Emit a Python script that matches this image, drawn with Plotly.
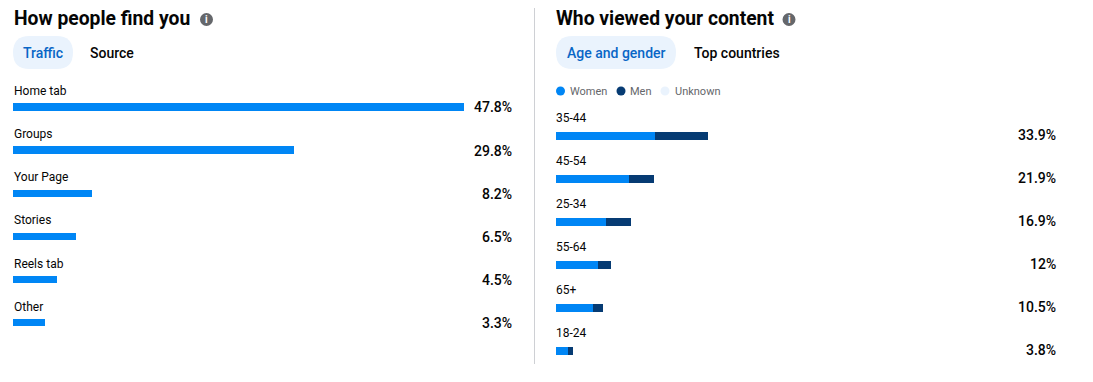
import plotly.graph_objects as go

traffic_labels = ["Home tab", "Groups", "Your Page", "Stories", "Reels tab", "Other"]
traffic_totals = ["47.8%", "29.8%", "8.2%", "6.5%", "4.5%", "3.3%"]
traffic_values = [47.8, 29.8, 8.37, 6.68, 4.66, 3.39]

age_labels = ["35-44", "45-54", "25-34", "55-64", "65+", "18-24"]
age_totals = ["33.9%", "21.9%", "16.9%", "12%", "10.5%", "3.8%"]
women_values = [22.1, 16.3, 11.2, 9.4, 8.3, 2.7]
men_values = [11.8, 5.6, 5.5, 2.8, 2.2, 1.1]

legend_names = ["Women", "Men", "Unknown"]

BLUE = "#0086F5"
NAVY = "#063B73"
PALE = "#EAF3FD"
FONT = "Roboto"
W, H = 1093, 382


def px(x):
    return x / W


def py(y):
    return 1 - y / H


fig = go.Figure()
fig.add_trace(go.Bar(x=traffic_values, y=traffic_labels, orientation="h", marker_color=BLUE,
                     marker_line_width=0, xaxis="x", yaxis="y", showlegend=False, hoverinfo="y"))
fig.add_trace(go.Bar(x=women_values, y=age_labels, orientation="h", marker_color=BLUE, name="Women",
                     marker_line_width=0, xaxis="x2", yaxis="y2", showlegend=False))
fig.add_trace(go.Bar(x=men_values, y=age_labels, orientation="h", marker_color=NAVY, name="Men",
                     marker_line_width=0, xaxis="x2", yaxis="y2", showlegend=False))

ann = []
shapes = []


def text(x, y, s, size=12, color="#050505", weight=400, anchor="left"):
    ann.append(dict(x=px(x), y=py(y), xref="paper", yref="paper", text=s, showarrow=False, borderpad=0,
                    xanchor=anchor, yanchor="middle", align=anchor,
                    font=dict(family=FONT, size=size, color=color, weight=weight)))


def pill(x0, x1, y0, y1):
    a0, a1, b0, b1 = px(x0), px(x1), py(y0), py(y1)
    rx = ((y1 - y0) / 2) / W
    shapes.append(dict(type="path", xref="paper", yref="paper", line_width=0, fillcolor=PALE, layer="below",
                       path=f"M {a0+rx} {b0} L {a1-rx} {b0} Q {a1} {b0} {a1} {(b0+b1)/2} Q {a1} {b1} {a1-rx} {b1} "
                            f"L {a0+rx} {b1} Q {a0} {b1} {a0} {(b0+b1)/2} Q {a0} {b0} {a0+rx} {b0} Z"))


def dot(cx, cy, r, color):
    shapes.append(dict(type="circle", xref="paper", yref="paper", line_width=0, fillcolor=color,
                       x0=px(cx - r), x1=px(cx + r), y0=py(cy + r), y1=py(cy - r)))


# headers
text(13, 19, "How people find you", 19.3, "#050505", 700)
dot(206.5, 19.5, 6.5, "#65676B")
text(206.5, 19.5, "i", 10, "#FFFFFF", 700, "center")
text(555, 19, "Who viewed your content", 19.3, "#050505", 700)
dot(789, 19.5, 6.5, "#65676B")
text(789, 19.5, "i", 10, "#FFFFFF", 700, "center")

# tabs
pill(13, 73, 36, 69)
text(43, 53, "Traffic", 14, "#0866C6", 500, "center")
text(112, 53, "Source", 14, "#050505", 500, "center")
pill(556, 676, 36, 69)
text(616, 53, "Age and gender", 14, "#0866C6", 500, "center")
text(736.5, 53, "Top countries", 14, "#050505", 500, "center")

# legend
for name, cx, tx, c in zip(legend_names, [560.5, 621, 665], [569, 629, 674], [BLUE, NAVY, PALE]):
    dot(cx, 91, 4.5, c)
    text(tx, 91, name, 11, "#65676B")

# row labels
for lab, t in zip(traffic_labels, traffic_totals):
    ann.append(dict(x=px(13), xref="paper", y=lab, yref="y", yshift=16, text=lab, showarrow=False, xanchor="left",
                    yanchor="middle", borderpad=0, font=dict(family=FONT, size=12, color="#050505")))
    ann.append(dict(x=px(512.5), xref="paper", y=lab, yref="y", yshift=-0.5, text=t, showarrow=False,
                    xanchor="right", yanchor="middle", borderpad=0,
                    font=dict(family=FONT, size=14, color="#050505", weight=500)))
for lab, t in zip(age_labels, age_totals):
    ann.append(dict(x=px(555), xref="paper", y=lab, yref="y2", yshift=18, text=lab, showarrow=False, xanchor="left",
                    yanchor="middle", borderpad=0, font=dict(family=FONT, size=12, color="#050505")))
    ann.append(dict(x=px(1056.5), xref="paper", y=lab, yref="y2", yshift=1.5, text=t, showarrow=False,
                    xanchor="right", yanchor="middle", borderpad=0,
                    font=dict(family=FONT, size=14, color="#050505", weight=500)))

# separator
shapes.append(dict(type="line", xref="paper", yref="paper", x0=px(534.5), x1=px(534.5), y0=py(8), y1=py(364),
                   line=dict(color="#CED0D4", width=1)))

hidden = dict(showgrid=False, zeroline=False, showticklabels=False, ticks="", showline=False)
fig.update_layout(
    width=W, height=H, margin=dict(l=0, r=0, t=0, b=0), paper_bgcolor="white", plot_bgcolor="white",
    barmode="stack", bargap=0.83, annotations=ann, shapes=shapes,
    xaxis=dict(domain=[px(13), px(512)], range=[0, 499 / 9.435], anchor="y", **hidden),
    yaxis=dict(domain=[py(344.4), py(85.4)], range=[5.5, -0.5], anchor="x", **hidden),
    xaxis2=dict(domain=[px(556), px(1056)], range=[0, 500 / 4.484], anchor="y2", **hidden),
    yaxis2=dict(domain=[py(372.5), py(114.5)], range=[5.5, -0.5], anchor="x2", **hidden),
)
fig.write_html("out.html", config=dict(displayModeBar=False),
               post_script="document.body.style.margin='0';")
